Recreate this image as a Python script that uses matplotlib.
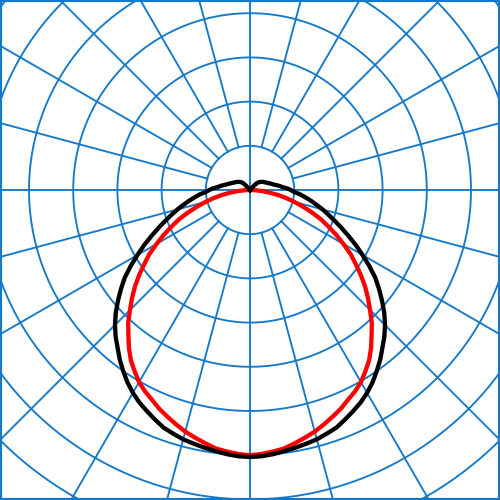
import numpy as np
import matplotlib
matplotlib.use("Agg")
import matplotlib.pyplot as plt

# angles from nadir (deg) and intensities (cd), one half of each symmetric curve
red_angles = np.arange(0, 90.1, 2.5)
red_values = [300, 299, 297, 295, 291, 287, 283, 278, 273, 268,
              262, 257, 251, 243, 235, 225, 214, 204, 192, 181,
              170, 158, 146, 135, 122, 110, 98, 87, 75, 63,
              52, 42, 32, 22, 14, 6, 0]

black_angles = np.concatenate([np.arange(0, 142.6, 2.5),
                               np.arange(150, 180.1, 10)])
black_values = [302, 301.5, 300, 298, 296, 294, 292, 289, 286, 281,
                276, 271, 265, 258, 250, 242, 233, 225, 216, 206,
                195, 184, 173, 160, 147, 135, 123, 112, 102, 93,
                85, 77, 70, 63, 57, 50, 46, 42, 37, 34,
                31, 28, 26, 24, 23, 21, 20, 19, 18, 17,
                16, 15, 14, 12.5, 11, 7, 2, 0,
                0, 0, 0, 0]

ring_step = 50
ring_count = 9
spoke_step = 15

grid_color = "#1479c9"


def mirror(angles, values):
    a = np.asarray(angles, dtype=float)
    v = np.asarray(values, dtype=float)
    a_full = np.concatenate([-a[::-1], a[1:]])
    v_full = np.concatenate([v[::-1], v[1:]])
    t = np.radians(a_full)
    return v_full * np.sin(t), -v_full * np.cos(t)


def main():
    fig = plt.figure(figsize=(5, 5), dpi=100)
    ax = fig.add_axes([0, 0, 1, 1])

    # one ring = 44.2 px, origin sits at (250, 190) px from top-left
    px = 44.2 / ring_step
    ax.set_xlim(-250 / px, 250 / px)
    ax.set_ylim(-310 / px, 190 / px)
    ax.set_aspect("equal")

    t = np.linspace(0, 2 * np.pi, 400)
    for k in range(1, ring_count + 1):
        r = k * ring_step
        ax.plot(r * np.cos(t), r * np.sin(t), color=grid_color, lw=1.35)

    r_in = ring_step
    r_out = ring_step * (ring_count + 2)
    for a in range(0, 360, spoke_step):
        th = np.radians(a)
        start = 0 if a % 90 == 0 else r_in
        ax.plot([start * np.cos(th), r_out * np.cos(th)],
                [start * np.sin(th), r_out * np.sin(th)],
                color=grid_color, lw=1.35)

    rx, ry = mirror(red_angles, red_values)
    bx, by = mirror(black_angles, black_values)
    ax.plot(rx, ry, color="red", lw=3.1, zorder=3, solid_joinstyle="round")
    ax.plot(bx, by, color="black", lw=3.1, zorder=4, solid_joinstyle="round")

    ax.set_xticks([])
    ax.set_yticks([])
    for s in ax.spines.values():
        s.set_color(grid_color)
        s.set_linewidth(3)

    fig.savefig("out.png", dpi=100)


if __name__ == "__main__":
    main()
